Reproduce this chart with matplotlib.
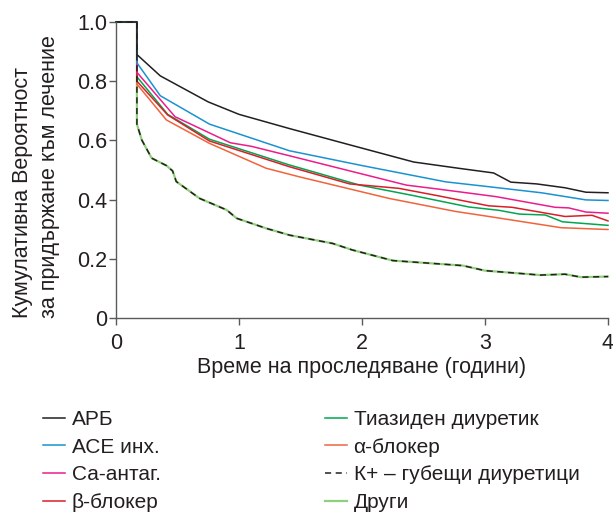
import matplotlib
matplotlib.use("Agg")
import matplotlib.pyplot as plt

plt.rcParams['font.family'] = ['Liberation Sans', 'DejaVu Sans']

# data (time in years, cumulative probability)
arb_x = [0, 0.17, 0.17, 0.36, 0.75, 1.0, 1.41, 1.9, 2.42, 2.8, 3.07, 3.21, 3.42, 3.65, 3.82, 4.0]
arb_y = [1.0, 1.0, 0.89, 0.818, 0.73, 0.688, 0.64, 0.585, 0.527, 0.505, 0.49, 0.459, 0.453, 0.44, 0.425, 0.423]

ace_x = [0, 0.17, 0.17, 0.36, 0.76, 1.41, 2.0, 2.68, 3.0, 3.46, 3.82, 4.0]
ace_y = [1.0, 1.0, 0.862, 0.751, 0.655, 0.565, 0.515, 0.46, 0.445, 0.423, 0.399, 0.397]

ca_x = [0, 0.17, 0.17, 0.48, 0.93, 1.1, 1.44, 2.36, 2.63, 3.09, 3.57, 3.68, 3.82, 4.0]
ca_y = [1.0, 1.0, 0.83, 0.68, 0.592, 0.58, 0.545, 0.449, 0.435, 0.41, 0.374, 0.372, 0.358, 0.354]

beta_x = [0, 0.17, 0.17, 0.42, 0.76, 1.41, 1.9, 2.3, 2.63, 3.03, 3.22, 3.65, 3.87, 4.0]
beta_y = [1.0, 1.0, 0.80, 0.686, 0.598, 0.511, 0.453, 0.438, 0.412, 0.379, 0.374, 0.343, 0.347, 0.328]

thz_x = [0, 0.17, 0.17, 0.42, 0.76, 1.41, 1.98, 2.4, 2.87, 3.11, 3.28, 3.49, 3.63, 4.0]
thz_y = [1.0, 1.0, 0.815, 0.688, 0.604, 0.517, 0.449, 0.415, 0.375, 0.364, 0.351, 0.348, 0.325, 0.313]

alpha_x = [0, 0.17, 0.17, 0.41, 0.76, 1.22, 1.49, 2.22, 2.76, 3.0, 3.62, 4.0]
alpha_y = [1.0, 1.0, 0.79, 0.669, 0.59, 0.506, 0.477, 0.404, 0.36, 0.345, 0.305, 0.299]

kplus_x = [0, 0.17, 0.17, 0.21, 0.29, 0.41, 0.46, 0.49, 0.68, 0.9, 0.98, 1.22, 1.41,
           1.76, 1.92, 2.25, 2.82, 3.0, 3.45, 3.65, 3.78, 4.0]
kplus_y = [1.0, 1.0, 0.655, 0.601, 0.54, 0.515, 0.497, 0.461, 0.404, 0.365, 0.337, 0.303, 0.28,
           0.252, 0.23, 0.194, 0.177, 0.16, 0.145, 0.148, 0.138, 0.14]

# "Други" lies exactly under the dashed K+ curve
other_x = kplus_x
other_y = kplus_y

labels = ['АРБ', 'АСЕ инх.', 'Са-антаг.', 'β-блокер',
          'Тиазиден диуретик', 'α-блокер', 'К+ – губещи диуретици', 'Други']

text_col = '#231f20'

fig = plt.figure(figsize=(6.13, 5.14), dpi=100)
ax = fig.add_axes([116 / 613, 1 - 318 / 514, 492 / 613, 296 / 514])

lw = 1.1
h_other, = ax.plot(other_x, other_y, color='#8fd07a', lw=1.6, label=labels[7], clip_on=False)
h_alpha, = ax.plot(alpha_x, alpha_y, color='#f0643a', lw=lw, label=labels[5], clip_on=False)
h_thz, = ax.plot(thz_x, thz_y, color='#00a651', lw=lw, label=labels[4], clip_on=False)
h_beta, = ax.plot(beta_x, beta_y, color='#d91e2a', lw=lw, label=labels[3], clip_on=False)
h_ca, = ax.plot(ca_x, ca_y, color='#ec1c8c', lw=lw, label=labels[2], clip_on=False)
h_ace, = ax.plot(ace_x, ace_y, color='#1a92d0', lw=lw, label=labels[1], clip_on=False)
h_arb, = ax.plot(arb_x, arb_y, color=text_col, lw=lw, label=labels[0], clip_on=False)
h_k, = ax.plot(kplus_x, kplus_y, color=text_col, lw=1.1, ls=(0, (4, 3)), label=labels[6], clip_on=False)

ax.set_xlim(0, 4)
ax.set_ylim(0, 1)
ax.set_xticks([0, 1, 2, 3, 4])
ax.set_xticklabels(['0', '1', '2', '3', '4'])
ax.set_yticks([0, 0.2, 0.4, 0.6, 0.8, 1.0])
ax.set_yticklabels(['0', '0.2', '0.4', '0.6', '0.8', '1.0'])
for s in ['top', 'right']:
    ax.spines[s].set_visible(False)
for s in ['left', 'bottom']:
    ax.spines[s].set_color('#5a5a5a')
    ax.spines[s].set_linewidth(1.0)
ax.tick_params(direction='out', length=5, width=1.0, color='#5a5a5a',
               labelsize=15.5, labelcolor=text_col)
ax.tick_params(axis='x', pad=6)
ax.tick_params(axis='y', pad=1.5)

# axis titles
fig.text(361.5 / 613, 1 - 368 / 514, 'Време на проследяване (години)', fontsize=15.5,
         color=text_col, ha='center', va='center')
fig.text(23 / 613, 1 - 318 / 514, 'Кумулативна Вероятност', fontsize=15.5,
         color=text_col, rotation=90, ha='center', va='bottom')
fig.text(50 / 613, 1 - 318 / 514, 'за придържане към лечение', fontsize=15.5,
         color=text_col, rotation=90, ha='center', va='bottom')

leg_kw = dict(loc='upper left', frameon=False, fontsize=15, handlelength=1.05,
              handletextpad=0.32, labelspacing=0.42, borderpad=0, borderaxespad=0)
leg1 = fig.legend(handles=[h_arb, h_ace, h_ca, h_beta], labels=labels[:4],
                  bbox_to_anchor=(43 / 613, 1 - 410 / 514), **leg_kw)
leg2 = fig.legend(handles=[h_thz, h_alpha, h_k, h_other], labels=labels[4:],
                  bbox_to_anchor=(325 / 613, 1 - 410 / 514), **leg_kw)
for leg in (leg1, leg2):
    for t in leg.get_texts():
        t.set_color(text_col)

fig.savefig('out.png', dpi=100)
